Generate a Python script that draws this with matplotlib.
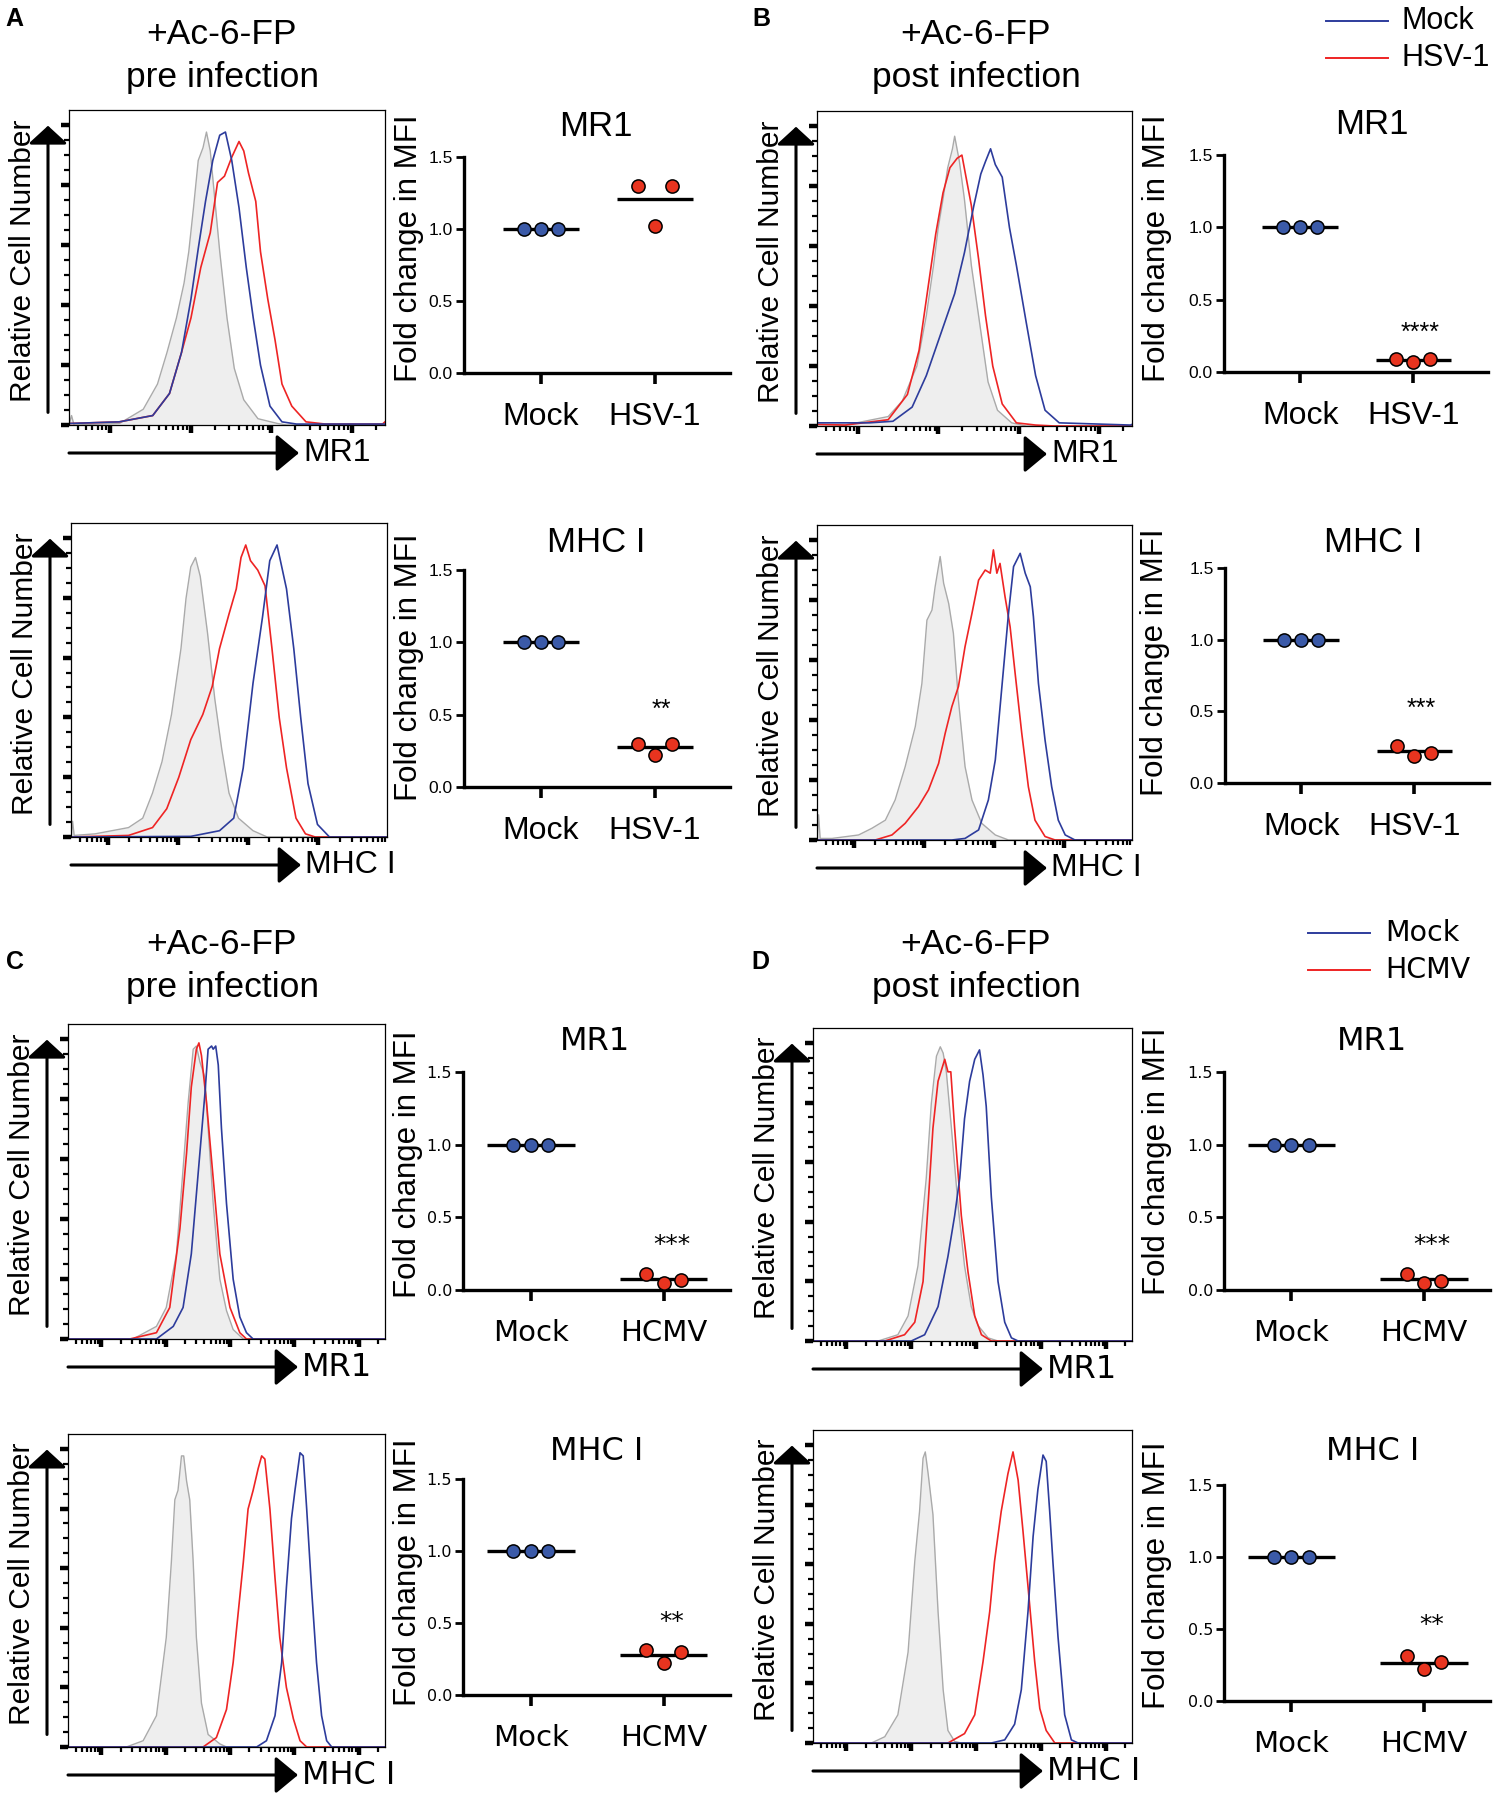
import numpy as np
import matplotlib
matplotlib.use("Agg")
import matplotlib.pyplot as plt

# ---- histogram curves (x: % of axis width, y: % of box height) ----
a_mr1_gray_x = [0, 0.8, 1.6, 16, 23.5, 28, 31, 34, 36.4, 37.9, 39.4, 40.9, 42.4, 43.5, 44.7, 46.2, 47.7, 50, 52.3, 55.3, 59.8, 65.9, 68.9, 100]
a_mr1_gray_y = [0, 3, 0, 0.5, 5, 13, 23, 34, 45, 55, 69, 84, 88, 93, 87, 71, 55, 34, 18, 8, 2, 0.5, 0, 0]
a_mr1_red_x = [0, 0.8, 15.9, 26.5, 31.8, 35.6, 38.6, 41.7, 44.7, 47, 49.2, 51.5, 53.8, 55.3, 56.8, 59.1, 60.6, 62.9, 65.2, 67.4, 70.5, 75, 81.1, 99.2, 100]
a_mr1_red_y = [0.5, 0.5, 1, 3, 10, 23, 34, 50, 61, 77, 79, 85, 90, 87, 80, 71, 55, 40, 27, 13, 6, 1, 0.3, 0.3, 1]
a_mr1_blue_x = [0, 0.8, 15.9, 26.5, 31.8, 35.6, 38.6, 40.9, 43.2, 45.5, 47.7, 49.5, 51.5, 53.8, 56.1, 58.3, 60.6, 63.6, 67.4, 72, 100]
a_mr1_blue_y = [0.5, 0.5, 1, 3, 10, 23, 40, 56, 71, 84, 92, 93, 84, 69, 50, 34, 19, 6, 1, 0.3, 0.3]

a_mhc_gray_x = [0, 0.5, 1, 7.6, 18.2, 22.7, 25.8, 28.8, 31.8, 34.8, 36.4, 37.9, 39.4, 40.9, 43.2, 45.5, 47.7, 50, 53, 57.6, 62.1, 100]
a_mhc_gray_y = [0, 5, 0.5, 1, 3, 6, 14, 24, 39, 60, 76, 86, 89, 83, 65, 44, 28, 14, 6, 2, 0, 0]
a_mhc_red_x = [0, 18.2, 25.8, 30.3, 34.1, 37.9, 41.7, 44.7, 47, 50, 52.3, 53.8, 55.3, 56.8, 59.1, 61.4, 63.6, 65.9, 68.2, 71.2, 74.2, 77.3, 100]
a_mhc_red_y = [0, 0.5, 3, 9, 19, 31, 39, 48, 60, 71, 79, 89, 93, 88, 85, 80, 60, 38, 22, 6, 1, 0, 0]
a_mhc_blue_x = [0, 37.9, 47, 51.5, 54.5, 57.6, 60.6, 62.9, 65.2, 66.7, 68.2, 70.5, 72.7, 75, 78, 81.8, 100]
a_mhc_blue_y = [0, 0.2, 2, 6, 22, 49, 70, 88, 93, 86, 79, 60, 38, 17, 4, 0, 0]

b_mr1_gray_x = [0, 9, 22.6, 27.1, 31.7, 34.7, 37, 38.5, 40, 41.5, 43, 43.7, 45.2, 46.8, 49, 51.3, 54.3, 57.3, 61.8, 66.4, 100]
b_mr1_gray_y = [0.5, 0.3, 3, 8, 19, 35, 51, 63, 72, 82, 88, 92, 84, 72, 51, 35, 14, 5, 1, 0, 0]
b_mr1_red_x = [0, 9, 22.6, 28.7, 32.4, 35.4, 37.7, 40, 42.2, 44.5, 46, 47.5, 49, 51.3, 53.5, 55.8, 58.8, 63.3, 69.4, 75.4, 100]
b_mr1_red_y = [0.5, 0.3, 2, 10, 24, 45, 61, 74, 82, 85, 86, 78, 70, 53, 35, 19, 7, 1, 0.3, 0, 0]
b_mr1_blue_x = [0, 16.6, 24.1, 30.2, 34.7, 39.2, 43.7, 46.8, 49.8, 52, 53.5, 55.1, 56.6, 58.8, 61.1, 63.3, 66.4, 69.4, 72.4, 76.9, 99.5, 100]
b_mr1_blue_y = [1, 1, 1.5, 6, 16, 29, 42, 55, 70, 80, 84, 88, 83, 79, 63, 51, 33, 16, 5, 1, 0.3, 0.5]

b_mhc_gray_x = [0, 0.5, 1, 4.8, 13.2, 17.4, 21.7, 24.8, 28, 31.2, 33.3, 34.9, 36.5, 37.5, 39.1, 40.2, 41.8, 43.3, 44.9, 47, 49.2, 52.3, 56.6, 60.8, 100]
b_mhc_gray_y = [0, 8, 0.5, 0.5, 1.6, 3.7, 6.3, 12.7, 23.3, 36, 49.7, 69.8, 73, 80.4, 90, 81.5, 75.1, 65.6, 44.4, 23.3, 12.7, 5.3, 1.6, 0, 0]
b_mhc_red_x = [0, 18.5, 23.8, 28, 32.2, 35.4, 38.6, 40.7, 42.8, 44.9, 47, 49.2, 51.3, 53.4, 55, 56, 57.1, 58.1, 59.7, 61.3, 62.9, 65, 67.1, 69.2, 72.4, 75.6, 100]
b_mhc_red_y = [0, 0, 1.6, 5.3, 10.6, 15.9, 24.3, 33.9, 42.3, 48.7, 61.4, 72, 82.5, 85.7, 84.7, 92.1, 84.7, 87.8, 77.2, 67.7, 52.9, 33.9, 16.9, 6.3, 1.1, 0, 0]
b_mhc_blue_x = [0, 42.8, 47, 51.3, 54.4, 56.6, 58.7, 60.8, 62.4, 64.5, 66.1, 67.7, 68.7, 70.3, 72.4, 74.5, 76.6, 78.8, 81.9, 100]
b_mhc_blue_y = [0, 0, 0.5, 3.2, 12.7, 25.4, 48.7, 72, 86.8, 91, 84.7, 80.4, 70.9, 49.7, 31.7, 16.9, 6.3, 1.6, 0, 0]

c_mr1_gray_x = [0, 20.5, 27.9, 31, 34.2, 36.3, 37.9, 39.5, 40.5, 41.6, 43.2, 44.2, 45.8, 47.9, 50, 52.1, 55.3, 100]
c_mr1_gray_y = [0, 0, 4, 10, 27, 54, 75, 92, 93, 88, 83, 67, 43, 19, 9, 3, 0, 0]
c_mr1_red_x = [0, 19.5, 27.9, 32.1, 35.3, 37.4, 38.9, 40.5, 41.3, 42.1, 43.7, 45.8, 47.9, 51.1, 54.2, 56.3, 100]
c_mr1_red_y = [0, 0, 2, 10, 35, 59, 80, 92, 94, 90, 75, 51, 27, 10, 2, 0, 0]
c_mr1_blue_x = [0, 27.9, 33.2, 36.3, 38.9, 41.6, 43.2, 44.2, 45.3, 45.8, 46.6, 47.4, 48.4, 50, 52.1, 54.2, 56.3, 58.4, 100]
c_mr1_blue_y = [0, 0, 4, 10, 27, 59, 78, 92, 93, 92, 93, 87, 67, 43, 19, 7, 2, 0, 0]

c_mhc_gray_x = [0, 18.4, 23.7, 27.9, 31, 32.6, 33.7, 34.7, 35.8, 36.5, 37.4, 38.4, 39.5, 40.5, 42.1, 44.2, 47.9, 50, 100]
c_mhc_gray_y = [0, 0, 2, 10, 35, 59, 79, 82, 93, 93, 85, 79, 59, 35, 14, 4, 1, 0, 0]
c_mhc_red_x = [0, 42.6, 46.8, 50, 52.1, 53.7, 55.3, 56.8, 58.4, 60, 61.1, 62.1, 63.7, 65.3, 66.8, 68.9, 71.1, 73.2, 75.3, 100]
c_mhc_red_y = [0, 0, 3, 12, 27, 43, 59, 76, 82, 89, 93, 92, 76, 54, 35, 19, 9, 2, 0, 0]
c_mhc_blue_x = [0, 59.5, 62.6, 65.3, 67.4, 68.9, 70.5, 71.6, 73.2, 74.2, 75.3, 76.8, 78.4, 80, 81.6, 83.2, 100]
c_mhc_blue_y = [0, 0, 2, 10, 27, 51, 73, 82, 94, 93, 76, 51, 27, 10, 2, 0, 0]

d_mr1_gray_x = [0, 20.4, 26.6, 29.8, 32.9, 35.5, 37.1, 38.7, 39.9, 40.8, 41.8, 43.4, 45.5, 47.5, 49.6, 51.7, 54.9, 58, 100]
d_mr1_gray_y = [0, 0, 2, 8, 24, 52, 76, 91, 94, 92, 86, 68, 43, 24, 11, 5, 1, 0, 0]
d_mr1_red_x = [0, 22.5, 28.7, 31.9, 34.5, 36.1, 37.6, 39.2, 41.3, 42.3, 43.2, 44.4, 46.5, 48.6, 50.7, 52.8, 55.9, 100]
d_mr1_red_y = [0, 0, 2, 6, 19, 44, 68, 83, 90, 86, 86, 68, 40, 22, 8, 2, 0, 0]
d_mr1_blue_x = [0, 30.8, 35, 39.2, 42.3, 44.4, 46, 47.5, 49.1, 50.7, 52.2, 53.3, 54.3, 55.9, 58, 60.1, 62.2, 64.3, 100]
d_mr1_blue_y = [0, 0, 2, 11, 27, 40, 52, 71, 83, 90, 93, 85, 75, 46, 19, 6, 1, 0, 0]

d_mhc_gray_x = [0, 18.3, 22.5, 26.6, 29.8, 31.9, 33.4, 34.5, 35.2, 36.1, 37.6, 39.2, 40.8, 42.3, 44.4, 46.5, 100]
d_mhc_gray_y = [0, 0, 2, 9, 29, 58, 74, 91, 93, 86, 73, 42, 17, 4, 0.5, 0, 0]
d_mhc_red_x = [0, 42.3, 47.5, 50.7, 53.3, 55.4, 56.9, 59, 61.1, 62.7, 64.3, 65.8, 67.4, 69.5, 71.1, 73.1, 75.8, 100]
d_mhc_red_y = [0, 0, 3, 9, 26, 42, 58, 74, 86, 93, 84, 68, 50, 26, 11, 4, 0, 0]
d_mhc_blue_x = [0, 55.9, 60.1, 63.2, 65.3, 67.4, 69, 70.5, 72.1, 73.1, 74.2, 75.2, 76.8, 78.9, 81, 83.1, 100]
d_mhc_blue_y = [0, 0, 1, 6, 17, 42, 66, 81, 92, 90, 74, 58, 34, 9, 1, 0, 0]

# ---- fold change in MFI (3 replicates each) ----
mock_values = [1.0, 1.0, 1.0]
a_mr1_virus = [1.30, 1.02, 1.30]
a_mhc_virus = [0.30, 0.22, 0.30]
b_mr1_virus = [0.09, 0.07, 0.09]
b_mhc_virus = [0.26, 0.19, 0.21]
c_mr1_virus = [0.11, 0.05, 0.07]
c_mhc_virus = [0.31, 0.22, 0.30]
d_mr1_virus = [0.11, 0.05, 0.065]
d_mhc_virus = [0.31, 0.22, 0.27]

hsv_labels = ["Mock", "HSV-1"]
hcmv_labels = ["Mock", "HCMV"]
star_labels = {"a_mhc": "**", "b_mr1": "****", "b_mhc": "***",
               "c_mr1": "***", "c_mhc": "**", "d_mr1": "***", "d_mhc": "**"}
star_y = {"a_mhc": 0.53, "b_mr1": 0.27, "b_mhc": 0.52,
          "c_mr1": 0.31, "c_mhc": 0.51, "d_mr1": 0.31, "d_mhc": 0.53}

# ---- style ----
BLUE = "#2d3c9c"
RED = "#ee2424"
DOT_BLUE = "#3b5aa8"
DOT_RED = "#e8341f"
GRAY_FILL = "#eeeeee"
GRAY_LINE = "#aaaaaa"
ARIAL = "Liberation Sans"
WIDE = "DejaVu Sans"

W, H = 1497, 1800
fig = plt.figure(figsize=(W / 100, H / 100), dpi=100)


def axes_px(l, t, r, b):
    return fig.add_axes([l / W, 1 - b / H, (r - l) / W, (b - t) / H])


def fig_text(x, y, s, **kw):
    fig.text(x / W, 1 - y / H, s, **kw)


def decade_ticks(first, step):
    majors = list(np.arange(first, 100, step))
    minors = []
    for p in [first - step] + majors:
        for m in range(2, 10):
            v = p + step * np.log10(m)
            if 0.5 < v < 99.5:
                minors.append(v)
    return majors, minors


def draw_hist(box, gray, red, blue, label, first, step, label_font):
    l, t, r, b = box
    w, h = r - l, b - t
    ax = axes_px(l, t, r, b)
    ax.fill_between(gray[0], gray[1], color=GRAY_FILL, lw=0)
    ax.plot(gray[0], gray[1], color=GRAY_LINE, lw=1.0)
    ax.plot(red[0], red[1], color=RED, lw=1.2)
    ax.plot(blue[0], blue[1], color=BLUE, lw=1.2)
    ax.set_xlim(0, 100)
    ax.set_ylim(0, 100)
    for s in ax.spines.values():
        s.set_linewidth(0.9)

    majors, minors = decade_ticks(first, step)
    ax.set_xticks(majors)
    ax.set_xticks(minors, minor=True)
    ystep = 100 * 15 / 315
    ax.set_yticks(np.arange(0, 100, 4 * ystep))
    ax.set_yticks(np.arange(0, 100, ystep), minor=True)
    ax.tick_params(which="major", length=6, width=3.2, direction="out",
                   labelbottom=False, labelleft=False)
    ax.tick_params(which="minor", length=3.5, width=1.6, direction="out")

    # axis arrows
    xa = -21 / w
    ax.annotate("", xy=(xa, 0.95), xytext=(xa, 0.04), xycoords="axes fraction",
                annotation_clip=False,
                arrowprops=dict(arrowstyle="-|>,head_length=0.55,head_width=0.6",
                                lw=2.2, color="k", mutation_scale=20,
                                shrinkA=0, shrinkB=0))
    yb = -28 / h
    tip = 230 / w
    ax.annotate("", xy=(tip, yb), xytext=(0, yb), xycoords="axes fraction",
                annotation_clip=False,
                arrowprops=dict(arrowstyle="-|>,head_length=0.7,head_width=0.58",
                                lw=2.2, color="k", mutation_scale=20,
                                shrinkA=0, shrinkB=0))
    ax.text(tip + 4 / w, yb, label, transform=ax.transAxes, ha="left",
            va="center", fontsize=23, family=label_font)
    ax.text(-46 / w, 0.52, "Relative Cell Number", transform=ax.transAxes,
            rotation=90, ha="center", va="center", fontsize=21.5, family=ARIAL)
    return ax


def draw_dots(box, cats, virus, key, xlim, offsets, half, title, title_xy,
              ylabel_xy, font, title_size, cat_size, tick_size):
    l, t, r, b = box
    ax = axes_px(l, t, r, b)
    groups = [mock_values, virus]
    colors = [DOT_BLUE, DOT_RED]
    for i, vals in enumerate(groups):
        m = np.mean(vals)
        ax.plot([i - half, i + half], [m, m], color="k", lw=2.4,
                solid_capstyle="butt", zorder=2, clip_on=False)
        ax.plot(np.array(offsets) + i, vals, "o", ms=9.5, mfc=colors[i],
                mec="k", mew=1.1, zorder=3, clip_on=False)
    if key in star_labels:
        ax.text(1.06, star_y[key], star_labels[key], ha="center", va="center",
                fontsize=18, family=font)
    ax.set_xlim(*xlim)
    ax.set_ylim(0, 1.5)
    ax.spines["top"].set_visible(False)
    ax.spines["right"].set_visible(False)
    ax.spines["left"].set_linewidth(2.4)
    ax.spines["bottom"].set_linewidth(2.4)
    ax.set_yticks([0, 0.5, 1.0, 1.5])
    ax.set_yticklabels(["0.0", "0.5", "1.0", "1.5"], fontsize=tick_size,
                       family=font)
    ax.set_xticks([0, 1])
    ax.set_xticklabels(cats, fontsize=cat_size, family=font)
    ax.tick_params(axis="y", length=6, width=2.0, pad=2)
    ax.tick_params(axis="x", length=8, width=2.6, pad=13)
    fig_text(*title_xy, title, ha="center", va="center", fontsize=title_size,
             family=font)
    fig_text(*ylabel_xy, "Fold change in MFI", ha="center", va="center",
             rotation=90, fontsize=22.5, family=ARIAL)
    return ax


# ---- panel headers: letter position, title centre x, title line y's ----
headers = [("A", 14, 19, 222, 34, 78, "pre infection"),
           ("B", 761, 19, 976, 34, 78, "post infection"),
           ("C", 15, 962, 222, 944, 987, "pre infection"),
           ("D", 760, 962, 976, 944, 987, "post infection")]
for letter, lx, ly, cx, y1, y2, sub in headers:
    fig_text(lx, ly, letter, ha="center", va="center", fontsize=18,
             fontweight="bold", family=ARIAL)
    fig_text(cx, y1, "+Ac-6-FP", ha="center", va="center", fontsize=25.5,
             family=ARIAL)
    fig_text(cx, y2, sub, ha="center", va="center", fontsize=25.5,
             family=ARIAL)

# ---- legends ----
for (x0, x1, y0, y1, xt, names, font) in [
        (1326, 1388, 21, 58, 1402, ["Mock", "HSV-1"], ARIAL),
        (1308, 1370, 933, 970, 1385, ["Mock", "HCMV"], WIDE)]:
    for yy, col, name in [(y0, BLUE, names[0]), (y1, RED, names[1])]:
        fig.add_artist(plt.Line2D([x0 / W, x1 / W], [1 - yy / H, 1 - yy / H],
                                  color=col, lw=1.4))
        fig_text(xt, yy, name, ha="left", va="center",
                 fontsize=22 if font == ARIAL else 20.5, family=font)

# ---- histograms ----
MR1_AB = (13.0, 25.5)
MHC_AB = (11.7, 22.2)
CD = (10.5, 20.3)

draw_hist((69, 110, 385, 425), (a_mr1_gray_x, a_mr1_gray_y), (a_mr1_red_x, a_mr1_red_y),
          (a_mr1_blue_x, a_mr1_blue_y), "MR1", *MR1_AB, ARIAL)
draw_hist((71, 523, 387, 837), (a_mhc_gray_x, a_mhc_gray_y), (a_mhc_red_x, a_mhc_red_y),
          (a_mhc_blue_x, a_mhc_blue_y), "MHC I", *MHC_AB, ARIAL)
draw_hist((817, 111, 1132, 426), (b_mr1_gray_x, b_mr1_gray_y), (b_mr1_red_x, b_mr1_red_y),
          (b_mr1_blue_x, b_mr1_blue_y), "MR1", *MR1_AB, ARIAL)
draw_hist((817, 525, 1132, 840), (b_mhc_gray_x, b_mhc_gray_y), (b_mhc_red_x, b_mhc_red_y),
          (b_mhc_blue_x, b_mhc_blue_y), "MHC I", *MHC_AB, ARIAL)
draw_hist((68, 1024, 385, 1339), (c_mr1_gray_x, c_mr1_gray_y), (c_mr1_red_x, c_mr1_red_y),
          (c_mr1_blue_x, c_mr1_blue_y), "MR1", *CD, WIDE)
draw_hist((68, 1434, 385, 1747), (c_mhc_gray_x, c_mhc_gray_y), (c_mhc_red_x, c_mhc_red_y),
          (c_mhc_blue_x, c_mhc_blue_y), "MHC I", *CD, WIDE)
draw_hist((813, 1028, 1132, 1341), (d_mr1_gray_x, d_mr1_gray_y), (d_mr1_red_x, d_mr1_red_y),
          (d_mr1_blue_x, d_mr1_blue_y), "MR1", *CD, WIDE)
draw_hist((813, 1430, 1132, 1743), (d_mhc_gray_x, d_mhc_gray_y), (d_mhc_red_x, d_mhc_red_y),
          (d_mhc_blue_x, d_mhc_blue_y), "MHC I", *CD, WIDE)

# ---- dot plots ----
AB = dict(xlim=(-0.675, 1.66), offsets=[-0.15, 0, 0.15], half=0.335, font=ARIAL,
          title_size=25, cat_size=23, tick_size=12.5)
CDd = dict(xlim=(-0.51, 1.5), offsets=[-0.13, 0, 0.13], half=0.33, font=WIDE,
           title_size=23, cat_size=21, tick_size=11.5)

draw_dots((464, 157, 730, 373), hsv_labels, a_mr1_virus, "a_mr1", title="MR1",
          title_xy=(596, 127), ylabel_xy=(409, 248), **AB)
draw_dots((464, 570, 730, 787), hsv_labels, a_mhc_virus, "a_mhc", title="MHC I",
          title_xy=(596, 542), ylabel_xy=(409, 667), **AB)
draw_dots((1224, 155, 1488, 372), hsv_labels, b_mr1_virus, "b_mr1", title="MR1",
          title_xy=(1372, 125), ylabel_xy=(1157, 248), **AB)
draw_dots((1225, 568, 1489, 783), hsv_labels, b_mhc_virus, "b_mhc", title="MHC I",
          title_xy=(1373, 542), ylabel_xy=(1155, 662), **AB)
draw_dots((463, 1072, 730, 1290), hcmv_labels, c_mr1_virus, "c_mr1", title="MR1",
          title_xy=(595, 1041), ylabel_xy=(408, 1164), **CDd)
draw_dots((463, 1479, 730, 1695), hcmv_labels, c_mhc_virus, "c_mhc", title="MHC I",
          title_xy=(597, 1452), ylabel_xy=(408, 1572), **CDd)
draw_dots((1224, 1072, 1490, 1290), hcmv_labels, d_mr1_virus, "d_mr1", title="MR1",
          title_xy=(1372, 1041), ylabel_xy=(1157, 1161), **CDd)
draw_dots((1224, 1485, 1490, 1701), hcmv_labels, d_mhc_virus, "d_mhc", title="MHC I",
          title_xy=(1373, 1452), ylabel_xy=(1157, 1575), **CDd)

fig.savefig("out.png", dpi=100)
